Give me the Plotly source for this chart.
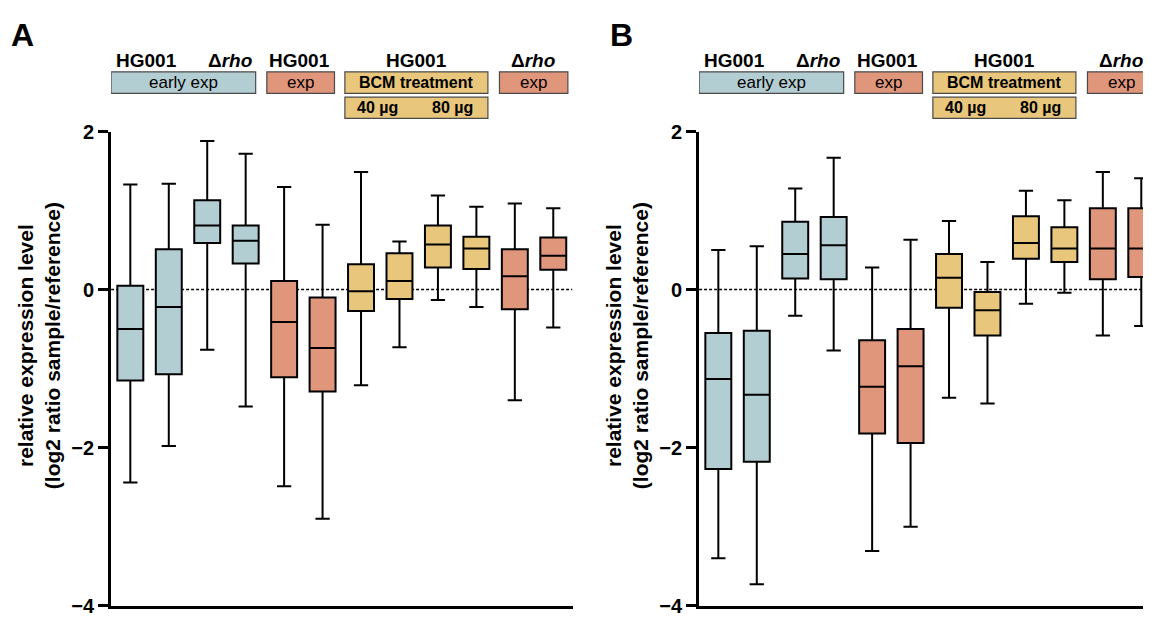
import plotly.graph_objects as go

# ---------------- data ----------------
categories = [
    "HG001 early exp 1", "HG001 early exp 2",
    "Δrho early exp 1", "Δrho early exp 2",
    "HG001 exp 1", "HG001 exp 2",
    "HG001 BCM 40 µg 1", "HG001 BCM 40 µg 2",
    "HG001 BCM 80 µg 1", "HG001 BCM 80 µg 2",
    "Δrho exp 1", "Δrho exp 2",
]
groups = ["early", "early", "early", "early", "exp", "exp",
          "bcm", "bcm", "bcm", "bcm", "exp", "exp"]

# Panel A
a_upper = [1.33, 1.34, 1.88, 1.72, 1.30, 0.82, 1.49, 0.61, 1.19, 1.05, 1.09, 1.03]
a_q3 = [0.05, 0.51, 1.13, 0.81, 0.11, -0.10, 0.32, 0.46, 0.81, 0.67, 0.51, 0.66]
a_median = [-0.50, -0.22, 0.81, 0.62, -0.41, -0.74, -0.02, 0.11, 0.57, 0.52, 0.17, 0.43]
a_q1 = [-1.15, -1.07, 0.59, 0.33, -1.11, -1.29, -0.27, -0.12, 0.28, 0.26, -0.25, 0.25]
a_lower = [-2.44, -1.98, -0.76, -1.48, -2.49, -2.90, -1.21, -0.73, -0.13, -0.22, -1.40, -0.48]

# Panel B
b_upper = [0.50, 0.55, 1.28, 1.67, 0.28, 0.63, 0.87, 0.35, 1.25, 1.13, 1.49, 1.41]
b_q3 = [-0.55, -0.52, 0.86, 0.92, -0.64, -0.50, 0.45, -0.03, 0.93, 0.79, 1.03, 1.03]
b_median = [-1.13, -1.33, 0.45, 0.56, -1.23, -0.97, 0.15, -0.26, 0.59, 0.52, 0.52, 0.52]
b_q1 = [-2.27, -2.18, 0.14, 0.13, -1.82, -1.94, -0.23, -0.58, 0.39, 0.35, 0.13, 0.16]
b_lower = [-3.40, -3.73, -0.33, -0.77, -3.31, -3.00, -1.37, -1.44, -0.18, -0.04, -0.58, -0.46]

y_ticks = [-4, -2, 0, 2]

# ---------------- styles ----------------
COLORS = {"early": "#b3ced3", "exp": "#e0967b", "bcm": "#e8c67b"}
FONT = "Liberation Sans, Arial, Helvetica, sans-serif"
W, H = 1151, 626
OFF = 8  # default page margin of the HTML body


def px(x_img):
    return (x_img - OFF) / W


def py(y_img):
    return 1 - (y_img - OFF) / H


UNIT = 38.45  # pixels per box slot
A_X0, A_X1 = 111.1, 572.5
B_X0 = 699.1
b_end = -0.5 + (W + OFF - B_X0) / UNIT

fig = go.Figure()

panels = [
    ("x", "y", a_upper, a_q3, a_median, a_q1, a_lower),
    ("x2", "y2", b_upper, b_q3, b_median, b_q1, b_lower),
]
for xa, ya, up, q3, med, q1, lo in panels:
    for i, cat in enumerate(categories):
        fig.add_trace(go.Box(
            x=[cat], q1=[q1[i]], median=[med[i]], q3=[q3[i]],
            lowerfence=[lo[i]], upperfence=[up[i]],
            xaxis=xa, yaxis=ya,
            fillcolor=COLORS[groups[i]],
            line=dict(color="black", width=2),
            whiskerwidth=0.55, width=0.675,
            boxpoints=False, showlegend=False, hoverinfo="skip",
        ))

yd = [py(616), py(124.7)]
ax_common = dict(showgrid=False, zeroline=False, showline=True,
                 linecolor="black", linewidth=3)
tickfont = dict(size=20, family=FONT, weight="bold")
fig.update_layout(
    width=W, height=H, margin=dict(l=0, r=0, t=0, b=0),
    paper_bgcolor="white", plot_bgcolor="white",
    boxmode="overlay",
    font=dict(family=FONT, color="black"),
    xaxis=dict(domain=[px(A_X0), px(A_X1)], range=[-0.5, 11.5],
               type="category", categoryorder="array", categoryarray=categories,
               showticklabels=False, ticks="", **ax_common),
    xaxis2=dict(domain=[px(B_X0), 1.0], range=[-0.5, b_end],
                type="category", categoryorder="array", categoryarray=categories,
                showticklabels=False, ticks="", anchor="y2", **ax_common),
    yaxis=dict(domain=yd, range=[-4, 2], tickvals=y_ticks,
               ticks="outside", ticklen=10, tickwidth=3, tickcolor="black",
               ticklabeloverflow="allow", tickfont=tickfont, **ax_common),
    yaxis2=dict(domain=yd, range=[-4, 2], tickvals=y_ticks, anchor="x2",
                ticks="outside", ticklen=10, tickwidth=3, tickcolor="black",
                ticklabeloverflow="allow", tickfont=tickfont, **ax_common),
)

shapes = []
annotations = []

header_rects = [  # (x0, x1, row, group)
    (-0.5, 3.26, 0, "early"),
    (3.55, 5.31, 0, "exp"),
    (5.58, 9.30, 0, "bcm"),
    (5.58, 9.30, 1, "bcm"),
    (9.60, 11.38, 0, "exp"),
]
rows = [(62.7, 85.0), (89.0, 111.0)]
header_texts = [  # (x, row, text, bold)
    (1.37, 0, "early exp", False),
    (4.43, 0, "exp", False),
    (7.44, 0, "BCM treatment", True),
    (6.44, 1, "40 µg", True),
    (8.38, 1, "80 µg", True),
    (10.49, 0, "exp", False),
]
top_labels = [
    (0.41, "<b>HG001</b>"),
    (2.58, "<b>Δ<i>rho</i></b>"),
    (4.39, "<b>HG001</b>"),
    (7.43, "<b>HG001</b>"),
    (10.46, "<b>Δ<i>rho</i></b>"),
]

for xa, ya, xend, panel_px, label, lab_px in [("x", "y", 11.5, A_X0, "A", 22.5),
                                              ("x2", "y2", b_end, B_X0, "B", 621)]:
    shapes.append(dict(type="line", xref=xa, yref=ya, x0=-0.5, x1=xend, y0=0, y1=0,
                       line=dict(color="black", width=1.5, dash="3px,2px"), layer="below"))
    for x0, x1, r, g in header_rects:
        shapes.append(dict(type="rect", xref=xa, yref="paper", x0=x0, x1=x1,
                           y0=py(rows[r][1]), y1=py(rows[r][0]),
                           fillcolor=COLORS[g], line=dict(color="#4a4a4a", width=1.2)))
    for x, r, t, b in header_texts:
        annotations.append(dict(xref=xa, yref="paper", x=x,
                                y=py((rows[r][0] + rows[r][1]) / 2),
                                text=f"<b>{t}</b>" if b else t, showarrow=False,
                                font=dict(size=16 if b else 17, family=FONT),
                                xanchor="center", yanchor="middle"))
    for x, t in top_labels:
        annotations.append(dict(xref=xa, yref="paper", x=x, y=py(51),
                                text=t, showarrow=False,
                                font=dict(size=19, family=FONT), xanchor="center", yanchor="middle"))
    annotations.append(dict(xref="paper", yref="paper", x=px(lab_px), y=py(25),
                            text=f"<b>{label}</b>", showarrow=False,
                            font=dict(size=32, family=FONT), xanchor="center", yanchor="middle"))
    annotations.append(dict(xref="paper", yref="paper", x=px(panel_px - 72), y=py(347),
                            text="<b>relative expression level</b><br><b>(log2 ratio sample/reference)</b>",
                            textangle=-90, showarrow=False,
                            font=dict(size=21, family=FONT), xanchor="center", yanchor="middle"))

fig.update_layout(shapes=shapes, annotations=annotations)
fig.write_html("out.html", config={"displayModeBar": False})
